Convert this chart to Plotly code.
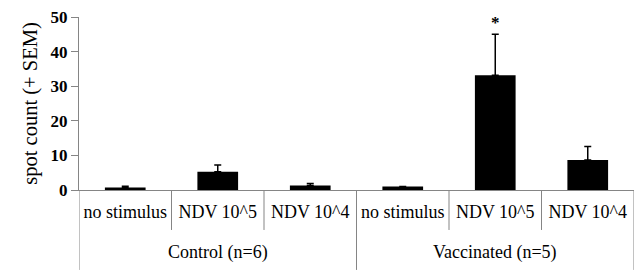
import plotly.graph_objects as go

groups = ["Control (n=6)", "Vaccinated (n=5)"]
stimuli = ["no stimulus", "NDV 10^5", "NDV 10^4"]
control_mean = [0.7, 5.3, 1.3]
control_sem = [0.4, 1.9, 0.6]
vacc_mean = [1.0, 33.2, 8.7]
vacc_sem = [0.0, 11.8, 3.9]
y_ticks = [0, 10, 20, 30, 40, 50]
significant = [False, False, False, False, True, False]

means = control_mean + vacc_mean
sems = control_sem + vacc_sem
labels = stimuli + stimuli
xs = list(range(len(means)))

FONT = "Liberation Serif, Times New Roman, serif"
AX = "#858585"

fig = go.Figure()
fig.add_trace(go.Bar(
    x=xs, y=means,
    width=0.44,
    marker=dict(color="black", line=dict(width=0)),
    error_y=dict(type="data", symmetric=False, array=sems,
                 arrayminus=[0] * len(sems), color="black",
                 thickness=1.5, width=3.5, visible=True),
    showlegend=False,
))

shapes = []
n_per = len(stimuli)
for b in range(len(means) + 1):
    xb = b - 0.5
    is_group = (b % n_per == 0)
    shapes.append(dict(type="line", xref="x", yref="paper",
                       x0=xb, x1=xb, y0=0,
                       y1=-0.462 if is_group else -0.231,
                       line=dict(color=AX, width=1)))

annotations = []
for gi, g in enumerate(groups):
    annotations.append(dict(x=gi * n_per + (n_per - 1) / 2, y=-0.36,
                            xref="x", yref="paper", text=g, showarrow=False,
                            font=dict(family=FONT, size=18, color="black"),
                            yanchor="middle"))
for i, s in enumerate(significant):
    if s:
        annotations.append(dict(x=xs[i], y=means[i] + sems[i], xref="x", yref="y",
                                text="*", showarrow=False, yanchor="bottom",
                                yshift=0,
                                font=dict(family=FONT, size=17, color="black",
                                          weight="bold")))

fig.update_layout(
    width=635, height=270,
    margin=dict(l=79, r=1, t=17, b=80),
    paper_bgcolor="white", plot_bgcolor="white",
    font=dict(family=FONT, color="black"),
    shapes=shapes, annotations=annotations,
    xaxis=dict(range=[-0.5, len(means) - 0.5], tickvals=xs, ticktext=labels,
               showline=True, linecolor=AX, linewidth=1, showgrid=False,
               zeroline=False, ticks="", ticklabelstandoff=5, automargin=False,
               ticklabeloverflow="allow",
               tickfont=dict(family=FONT, size=18, color="black")),
    yaxis=dict(range=[0, 50], tickvals=y_ticks, showline=True, linecolor=AX,
               linewidth=1, showgrid=False, zeroline=False, ticks="outside",
               ticklen=7, tickcolor=AX, automargin=False,
               tickfont=dict(family=FONT, size=17, color="black", weight="bold"),
               title=dict(text="spot count (+ SEM)", standoff=7,
                          font=dict(family=FONT, size=20.5, color="black"))),
)

fig.write_html("out.html", config={"displayModeBar": False},
               post_script="document.body.style.margin='0';document.body.style.overflow='hidden';")
